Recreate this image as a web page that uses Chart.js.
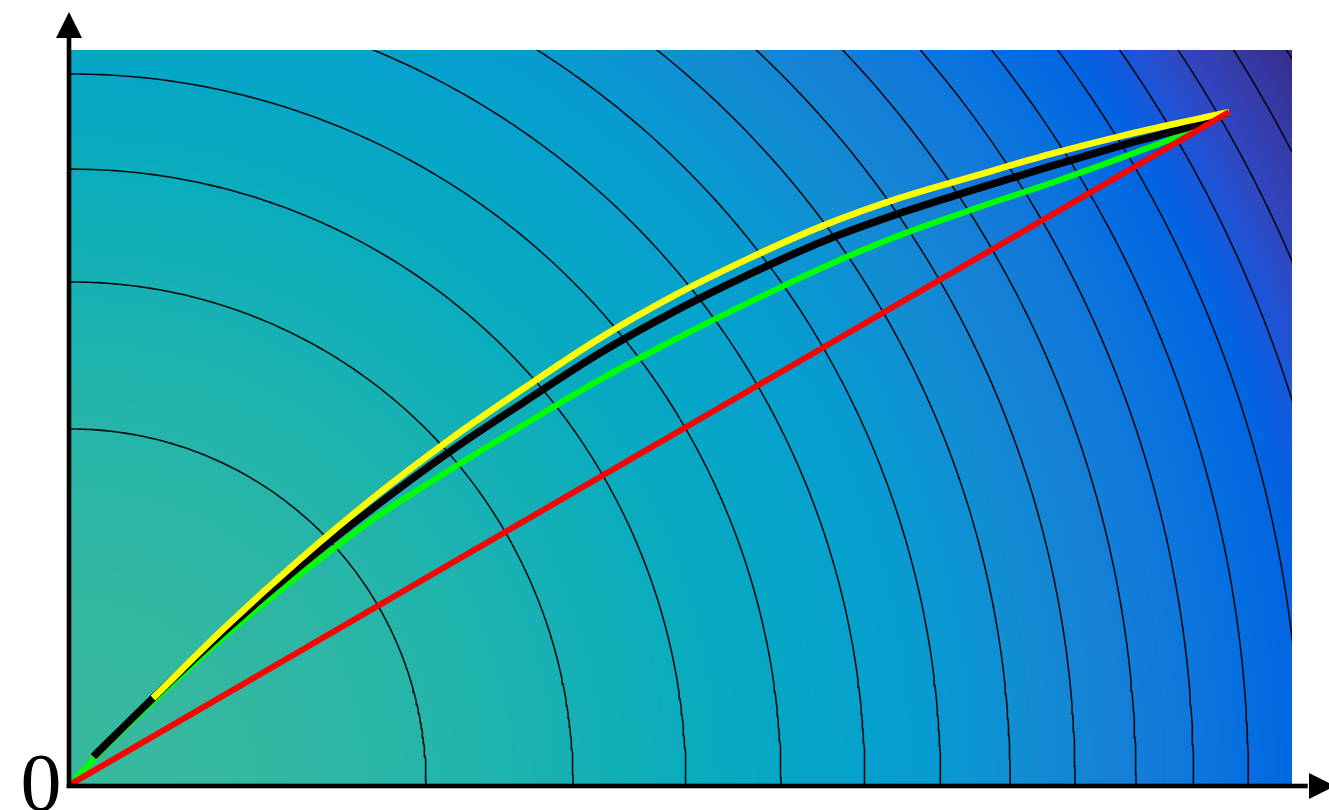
<!DOCTYPE html>
<html>
<head>
<meta charset="utf-8">
<title>Paths across a radial field</title>
<script src="https://cdn.jsdelivr.net/npm/chart.js@4.4.1/dist/chart.umd.min.js"></script>
<style>
  html, body { margin: 0; padding: 0; background: #ffffff; }
  #c { display: block; }
</style>
</head>
<body>
<canvas id="c" width="1329" height="810"></canvas>
<script>
// ---- domain of the plot (field units) ----
const xRange = [0, 3.4394];
const yRange = [0, 2.0676];

// ---- contour levels of the field f = -(x^2 + y^2) ----
const contourLevels = [-1, -2, -3, -4, -5, -6, -7, -8, -9, -10, -11, -12, -13, -14, -15, -16];
const colorLimits = [-16.3, 15.8];

// ---- paths from the origin to the target point ----
const straightX = [0, 3.262];
const straightY = [0, 1.893];

const greenX = [0, 0.063, 0.251, 0.434, 0.645, 0.856, 1.068, 1.279, 1.490, 1.701, 1.913, 2.124, 2.335, 2.546, 2.758, 2.969, 3.180, 3.262];
const greenY = [0, 0.069, 0.251, 0.417, 0.590, 0.749, 0.885, 1.014, 1.139, 1.252, 1.358, 1.458, 1.546, 1.621, 1.692, 1.768, 1.850, 1.893];

const blackX = [0.063, 0.231, 0.434, 0.645, 0.856, 1.068, 1.279, 1.490, 1.701, 1.913, 2.124, 2.335, 2.546, 2.758, 2.969, 3.180, 3.262];
const blackY = [0.077, 0.242, 0.432, 0.614, 0.781, 0.937, 1.078, 1.214, 1.332, 1.437, 1.531, 1.608, 1.675, 1.740, 1.802, 1.861, 1.893];

const yellowX = [0.231, 0.434, 0.645, 0.856, 1.068, 1.279, 1.490, 1.701, 1.913, 2.124, 2.335, 2.546, 2.758, 2.969, 3.180, 3.262];
const yellowY = [0.242, 0.441, 0.633, 0.810, 0.971, 1.117, 1.256, 1.377, 1.482, 1.575, 1.651, 1.713, 1.774, 1.828, 1.875, 1.893];

const originLabel = '0';

// parula colour table (first half of the 64-step map)
const parula = [
  [0.2081, 0.1663, 0.5292], [0.2116, 0.1898, 0.5777], [0.2123, 0.2138, 0.6270], [0.2081, 0.2386, 0.6771],
  [0.1959, 0.2645, 0.7279], [0.1707, 0.2919, 0.7792], [0.1253, 0.3242, 0.8303], [0.0591, 0.3598, 0.8683],
  [0.0117, 0.3875, 0.8820], [0.0060, 0.4086, 0.8828], [0.0165, 0.4266, 0.8786], [0.0329, 0.4430, 0.8720],
  [0.0498, 0.4586, 0.8641], [0.0629, 0.4737, 0.8554], [0.0723, 0.4887, 0.8467], [0.0779, 0.5040, 0.8384],
  [0.0793, 0.5200, 0.8312], [0.0749, 0.5375, 0.8263], [0.0641, 0.5570, 0.8240], [0.0488, 0.5772, 0.8228],
  [0.0343, 0.5966, 0.8199], [0.0265, 0.6137, 0.8135], [0.0239, 0.6287, 0.8038], [0.0231, 0.6418, 0.7913],
  [0.0228, 0.6535, 0.7768], [0.0267, 0.6642, 0.7607], [0.0384, 0.6743, 0.7436], [0.0590, 0.6838, 0.7254],
  [0.0843, 0.6928, 0.7062], [0.1133, 0.7015, 0.6859], [0.1453, 0.7098, 0.6646], [0.1801, 0.7177, 0.6424],
  [0.2178, 0.7250, 0.6193], [0.2586, 0.7317, 0.5954], [0.3022, 0.7376, 0.5712], [0.3482, 0.7424, 0.5473]
];
const PARULA_STEPS = 64;

function field(x, y) { return -(x * x + y * y); }

function colourFor(v) {
  let idx = (v - colorLimits[0]) / (colorLimits[1] - colorLimits[0]) * (PARULA_STEPS - 1);
  idx = Math.max(0, Math.min(parula.length - 1.0001, idx));
  const i = Math.floor(idx), f = idx - i;
  const a = parula[i], b = parula[i + 1];
  return [
    Math.round((a[0] + (b[0] - a[0]) * f) * 255),
    Math.round((a[1] + (b[1] - a[1]) * f) * 255),
    Math.round((a[2] + (b[2] - a[2]) * f) * 255)
  ];
}

function toPoints(xs, ys) { return xs.map((x, i) => ({ x: x, y: ys[i] })); }

function contourPoints(level) {
  const r = Math.sqrt(-level);
  const pts = [];
  const steps = 180;
  for (let k = 0; k <= steps; k++) {
    const a = (Math.PI / 2) * k / steps;
    pts.push({ x: r * Math.cos(a), y: r * Math.sin(a) });
  }
  return pts;
}

// shaded field behind the paths
const fieldBackground = {
  id: 'fieldBackground',
  beforeDatasetsDraw(chart) {
    const { ctx, chartArea, scales } = chart;
    const left = Math.round(chartArea.left), top = Math.round(chartArea.top);
    const w = Math.round(chartArea.right) - left, h = Math.round(chartArea.bottom) - top;
    const off = document.createElement('canvas');
    off.width = w; off.height = h;
    const octx = off.getContext('2d');
    const img = octx.createImageData(w, h);
    const xv = new Float64Array(w), yv = new Float64Array(h);
    for (let i = 0; i < w; i++) xv[i] = scales.x.getValueForPixel(left + i + 0.5);
    for (let j = 0; j < h; j++) yv[j] = scales.y.getValueForPixel(top + j + 0.5);
    let p = 0;
    for (let j = 0; j < h; j++) {
      for (let i = 0; i < w; i++) {
        const c = colourFor(field(xv[i], yv[j]));
        img.data[p++] = c[0]; img.data[p++] = c[1]; img.data[p++] = c[2]; img.data[p++] = 255;
      }
    }
    octx.putImageData(img, 0, 0);
    ctx.save();
    ctx.drawImage(off, left, top);
    ctx.restore();
  }
};

// arrowed axes through the origin and the origin label
const arrowAxes = {
  id: 'arrowAxes',
  afterDraw(chart) {
    const { ctx, scales } = chart;
    const ox = scales.x.getPixelForValue(0);
    const oy = scales.y.getPixelForValue(0);
    ctx.save();
    ctx.fillStyle = '#000000';
    // vertical axis
    ctx.fillRect(ox - 4.3, 36, 4.6, oy + 4 - 36);
    ctx.beginPath();
    ctx.moveTo(ox - 2, 12);
    ctx.lineTo(ox - 15, 38);
    ctx.lineTo(ox + 11, 38);
    ctx.closePath();
    ctx.fill();
    // horizontal axis
    ctx.fillRect(ox - 4.3, oy - 0.3, 1312 - ox, 4.6);
    ctx.beginPath();
    ctx.moveTo(1335, oy + 2);
    ctx.lineTo(1309, oy - 11);
    ctx.lineTo(1309, oy + 15);
    ctx.closePath();
    ctx.fill();
    // origin label
    ctx.font = '82px "Liberation Serif", "DejaVu Serif", serif';
    ctx.textAlign = 'left';
    ctx.textBaseline = 'alphabetic';
    ctx.fillText(originLabel, 20.5, 810);
    ctx.restore();
  }
};

const datasets = [];
datasets.push({
  label: 'straight', data: toPoints(straightX, straightY),
  borderColor: '#ff0000', borderWidth: 6, order: 1, tension: 0
});
datasets.push({
  label: 'yellow', data: toPoints(yellowX, yellowY),
  borderColor: '#ffff00', borderWidth: 6.5, order: 2, cubicInterpolationMode: 'monotone'
});
datasets.push({
  label: 'black', data: toPoints(blackX, blackY),
  borderColor: '#000000', borderWidth: 7.5, order: 3, cubicInterpolationMode: 'monotone'
});
datasets.push({
  label: 'green', data: toPoints(greenX, greenY),
  borderColor: '#00ff00', borderWidth: 6, order: 4, cubicInterpolationMode: 'monotone'
});
contourLevels.forEach((lv) => {
  datasets.push({
    label: 'level ' + lv, data: contourPoints(lv),
    borderColor: 'rgba(0,0,0,0.92)', borderWidth: 1.6, order: 10, tension: 0
  });
});

new Chart(document.getElementById('c'), {
  type: 'line',
  data: { datasets: datasets },
  options: {
    responsive: false,
    devicePixelRatio: 1,
    animation: false,
    parsing: true,
    elements: { point: { radius: 0, hoverRadius: 0 }, line: { fill: false } },
    layout: { padding: { left: 71, right: 37, top: 50, bottom: 26 } },
    plugins: { legend: { display: false }, tooltip: { enabled: false } },
    events: [],
    scales: {
      x: { type: 'linear', min: xRange[0], max: xRange[1], display: false },
      y: { type: 'linear', min: yRange[0], max: yRange[1], display: false }
    }
  },
  plugins: [fieldBackground, arrowAxes]
});
</script>
</body>
</html>
